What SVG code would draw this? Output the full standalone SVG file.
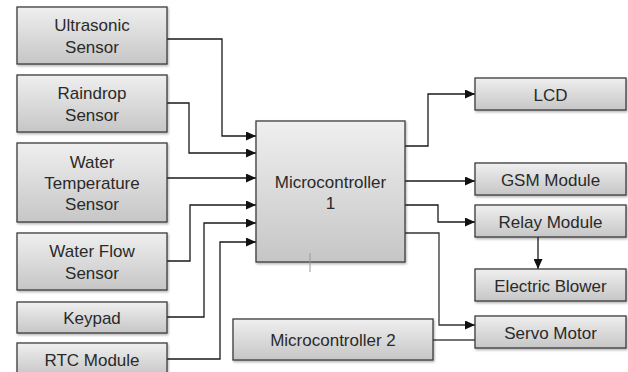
<svg xmlns="http://www.w3.org/2000/svg" width="628" height="372" viewBox="0 0 628 372">
<defs>
<linearGradient id="g" x1="0" y1="0" x2="0" y2="1">
<stop offset="0" stop-color="#efefef"/>
<stop offset="1" stop-color="#c6c6c6"/>
</linearGradient>
<filter id="sh" x="-10%" y="-10%" width="130%" height="140%">
<feDropShadow dx="1" dy="1.5" stdDeviation="1" flood-color="#000" flood-opacity="0.3"/>
</filter>
<marker id="ar" viewBox="0 0 10 10" refX="10" refY="5" markerWidth="10" markerHeight="9" markerUnits="userSpaceOnUse" orient="auto" preserveAspectRatio="none">
<path d="M0,0 L10,5 L0,10 Z" fill="#111"/>
</marker>
<style>
.b{fill:url(#g);stroke:#3c3c3c;stroke-width:1.3;filter:url(#sh)}
.t{font-family:"Liberation Sans",Arial,sans-serif;font-size:17px;fill:#2a2a2a;text-anchor:middle}
.c{fill:none;stroke:#1a1a1a;stroke-width:1.3}
.a{marker-end:url(#ar)}
</style>
</defs>
<rect width="628" height="372" fill="#fff"/>
<g id="connectors">
<path class="c a" d="M167,39 H222 V136 H256"/>
<path class="c a" d="M167,103 H189 V153 H256"/>
<path class="c a" d="M167,178 H256"/>
<path class="c a" d="M167,261 H190 V205 H256"/>
<path class="c a" d="M167,317 H204 V223 H256"/>
<path class="c a" d="M167,359 H220 V242 H256"/>
<path class="c a" d="M405,146 H428 V94 H475"/>
<path class="c a" d="M405,181 H475"/>
<path class="c a" d="M405,205 H438 V222 H475"/>
<path class="c a" d="M538,237 V269"/>
<path class="c a" d="M405,233 H439 V325 H475" style="stroke:#333"/>
<path class="c" d="M433,340 H475" style="stroke:#444"/>
</g>
<g id="ultrasonic"><rect class="b" x="17" y="7" width="150" height="57"/><text class="t" x="92" y="31">Ultrasonic</text><text class="t" x="92" y="52.5">Sensor</text></g>
<g id="raindrop"><rect class="b" x="17" y="75" width="150" height="57"/><text class="t" x="92" y="99">Raindrop</text><text class="t" x="92" y="120.5">Sensor</text></g>
<g id="watertemp"><rect class="b" x="17" y="143" width="150" height="79"/><text class="t" x="92" y="168">Water</text><text class="t" x="92" y="189">Temperature</text><text class="t" x="92" y="210">Sensor</text></g>
<g id="waterflow"><rect class="b" x="17" y="233" width="150" height="57"/><text class="t" x="92" y="257">Water Flow</text><text class="t" x="92" y="278.5">Sensor</text></g>
<g id="keypad"><rect class="b" x="17" y="302" width="150" height="31"/><text class="t" x="92" y="323.5">Keypad</text></g>
<g id="rtc"><rect class="b" x="17" y="343" width="150" height="33"/><text class="t" x="92" y="365.5">RTC Module</text></g>
<g id="mc1"><rect class="b" x="256" y="121" width="149" height="141"/><text class="t" x="330.5" y="188">Microcontroller</text><text class="t" x="330.5" y="209">1</text><line x1="310" y1="253" x2="310" y2="272" stroke="#999" stroke-width="1"/></g>
<g id="lcd"><rect class="b" x="475" y="78" width="151" height="32"/><text class="t" x="550.5" y="100.5">LCD</text></g>
<g id="gsm"><rect class="b" x="475" y="163" width="151" height="32"/><text class="t" x="550.5" y="185.5">GSM Module</text></g>
<g id="relay"><rect class="b" x="475" y="205" width="151" height="32"/><text class="t" x="550.5" y="227.5">Relay Module</text></g>
<g id="blower"><rect class="b" x="475" y="269" width="151" height="32"/><text class="t" x="550.5" y="291.5">Electric Blower</text></g>
<g id="servo"><rect class="b" x="475" y="316" width="151" height="32"/><text class="t" x="550.5" y="338.5">Servo Motor</text></g>
<g id="mc2"><rect class="b" x="233" y="319" width="200" height="41"/><text class="t" x="333" y="346">Microcontroller 2</text></g>
</svg>
